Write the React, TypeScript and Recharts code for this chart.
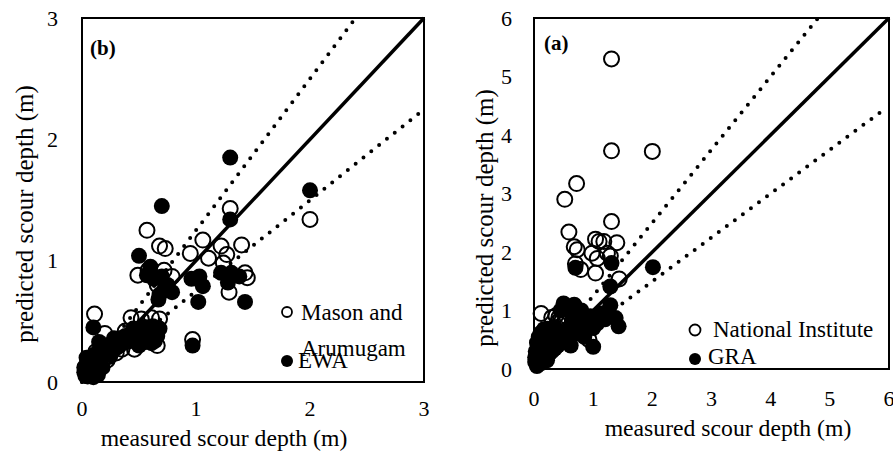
import { ScatterChart, Scatter, XAxis, YAxis, ReferenceArea } from 'recharts'

const FONT = "'Liberation Serif', 'Times New Roman', serif"

const TICKS_B = [0, 1, 2, 3]
const TICKS_A = [0, 1, 2, 3, 4, 5, 6]

// (b) measured vs predicted, Mason and Arumugam (open) / EWA (filled)
const MASON: [number, number][] = [
  [1.3, 1.43], [2.0, 1.34], [0.57, 1.25], [0.68, 1.12], [0.73, 1.1], [1.06, 1.17], [0.95, 1.06],
  [1.22, 1.12], [1.4, 1.13], [1.27, 1.05], [1.11, 1.02], [1.24, 0.98], [0.49, 0.88], [0.72, 0.92],
  [0.79, 0.87], [1.45, 0.86], [1.29, 0.74], [1.43, 0.9], [0.11, 0.56], [0.43, 0.53], [0.61, 0.53],
  [0.68, 0.52], [0.97, 0.35], [0.2, 0.4], [0.46, 0.27], [0.66, 0.3], [0.35, 0.27], [0.24, 0.21],
  [0.15, 0.15], [0.08, 0.1], [0.05, 0.05], [0.12, 0.25], [0.18, 0.3], [0.28, 0.33], [0.55, 0.45],
  [0.62, 0.4], [0.38, 0.42], [0.1, 0.08], [0.03, 0.12], [0.22, 0.18], [0.3, 0.24], [0.52, 0.52],
  [0.58, 0.92], [0.66, 0.8],
]

const EWA: [number, number][] = [
  [1.3, 1.85], [2.0, 1.58], [0.7, 1.45], [1.3, 1.34], [0.5, 1.04], [0.6, 0.95], [0.7, 0.87],
  [0.72, 0.76], [0.79, 0.74], [0.96, 0.85], [1.03, 0.87], [1.06, 0.79], [1.02, 0.66], [1.22, 0.9],
  [1.31, 0.9], [1.38, 0.87], [1.28, 0.82], [1.43, 0.66], [0.97, 0.3], [0.1, 0.45], [0.15, 0.33],
  [0.43, 0.4], [0.55, 0.38], [0.66, 0.38], [0.61, 0.32], [0.35, 0.36], [0.26, 0.3], [0.2, 0.26],
  [0.12, 0.2], [0.06, 0.1], [0.03, 0.05], [0.08, 0.15], [0.18, 0.12], [0.25, 0.22], [0.4, 0.33],
  [0.48, 0.35], [0.02, 0.08], [0.05, 0.18], [0.3, 0.28], [0.14, 0.06], [0.63, 0.85], [0.67, 0.68],
  [0.57, 0.88], [0.02, 0.12], [0.04, 0.2], [0.06, 0.16], [0.1, 0.22], [0.14, 0.25], [0.18, 0.22],
  [0.22, 0.3], [0.28, 0.36], [0.33, 0.3], [0.38, 0.38], [0.42, 0.34], [0.45, 0.44], [0.5, 0.4],
  [0.53, 0.45], [0.58, 0.43], [0.62, 0.46], [0.68, 0.44], [0.5, 0.3], [0.56, 0.33], [0.64, 0.34],
  [0.1, 0.04], [0.07, 0.06], [0.75, 0.8], [0.68, 0.72],
]

// (a) National Institute (open) / GRA (filled)
const NATIONAL: [number, number][] = [
  [1.31, 5.3], [1.31, 3.73], [2.0, 3.72], [0.72, 3.17], [0.52, 2.9], [1.31, 2.52], [0.59, 2.34],
  [0.68, 2.09], [0.73, 2.04], [1.04, 2.22], [1.1, 2.18], [1.18, 2.18], [1.4, 2.16], [0.98, 1.98],
  [1.07, 1.89], [1.24, 1.98], [1.29, 1.93], [0.7, 1.8], [0.79, 1.7], [1.04, 1.64], [1.44, 1.54],
  [0.12, 0.95], [0.37, 0.91], [0.45, 0.85], [0.5, 0.78], [0.93, 0.5], [0.23, 0.68], [0.4, 0.8],
  [0.55, 0.9], [0.3, 0.88], [0.1, 0.45], [0.15, 0.6], [0.2, 0.35], [0.6, 0.62], [0.05, 0.2],
  [0.08, 0.1], [0.28, 0.5], [0.42, 0.88], [0.47, 0.82],
]

const GRA: [number, number][] = [
  [2.01, 1.74], [0.7, 1.73], [1.31, 1.81], [1.29, 1.41], [0.5, 1.12], [0.61, 1.02], [0.78, 0.93],
  [0.95, 0.9], [1.07, 0.78], [1.29, 1.09], [1.38, 0.87], [1.43, 0.73], [1.0, 0.7], [1.0, 0.38],
  [0.62, 0.4], [0.39, 0.51], [0.17, 0.68], [0.12, 0.46], [0.07, 0.18], [0.05, 0.05], [0.1, 0.3],
  [0.15, 0.55], [0.2, 0.4], [0.25, 0.25], [0.3, 0.5], [0.45, 0.45], [0.55, 0.55], [0.7, 0.6],
  [0.8, 0.7], [0.85, 0.55], [0.35, 0.35], [0.08, 0.38], [0.12, 0.1], [0.18, 0.2], [0.65, 0.85],
  [0.4, 0.65], [0.02, 0.12], [1.2, 0.85], [1.15, 0.95], [0.03, 0.3], [0.05, 0.45], [0.08, 0.55],
  [0.12, 0.62], [0.2, 0.6], [0.25, 0.5], [0.3, 0.6], [0.35, 0.72], [0.22, 0.15], [0.3, 0.3],
  [0.15, 0.25], [0.4, 0.4], [0.5, 0.6], [0.6, 0.7], [0.7, 0.8], [0.75, 0.95], [0.85, 0.85],
  [0.9, 0.75], [0.55, 1.05], [0.45, 1.0], [0.65, 0.95], [0.8, 1.0], [0.68, 1.1], [0.02, 0.2],
]

// reference lines: 1:1 and the two dotted bounds
const LINE_B_EQUAL: [number, number][] = [[0, 0], [3, 3]]
const LINE_B_UPPER: [number, number][] = [[0, 0], [2.4, 3]]
const LINE_B_LOWER: [number, number][] = [[0, 0], [2.95, 2.21]]
const LINE_A_EQUAL: [number, number][] = [[0, 0], [6, 6]]
const LINE_A_UPPER: [number, number][] = [[0, 0], [4.8, 6]]
const LINE_A_LOWER: [number, number][] = [[0, 0], [5.95, 4.46]]

const toXY = (pts: [number, number][]) => pts.map(([x, y]) => ({ x, y }))

const openDot = (p: any) => (
  <circle cx={p.cx} cy={p.cy} r={7.5} fill="none" stroke="#000" strokeWidth={2} />
)
const filledDot = (p: any) => <circle cx={p.cx} cy={p.cy} r={8} fill="#000" />
const noDot = () => <g />

const solidLine = { stroke: '#000', strokeWidth: 3.5 }
const dottedLine = { stroke: '#000', strokeWidth: 4, strokeDasharray: '0 10', strokeLinecap: 'round' }

const tick = { fontSize: 22, fill: '#000', fontFamily: FONT }

function Panel(props: {
  width: number
  height: number
  margin: any
  max: number
  ticks: number[]
  xTickMargin: number
  yTickMargin: number
  open: [number, number][]
  filled: [number, number][]
  lines: [number, number][][]
}) {
  const { max, ticks } = props
  return (
    <ScatterChart
      width={props.width}
      height={props.height}
      margin={props.margin}
      style={{ fontFamily: FONT }}
    >
      <XAxis
        type="number"
        dataKey="x"
        domain={[0, max]}
        ticks={ticks}
        interval={0}
        tickLine={false}
        axisLine={false}
        tickMargin={props.xTickMargin}
        height={40}
        tick={tick}
      />
      <YAxis
        type="number"
        dataKey="y"
        domain={[0, max]}
        ticks={ticks}
        interval={0}
        tickLine={false}
        axisLine={false}
        tickMargin={props.yTickMargin}
        width={50}
        tick={tick}
      />
      <ReferenceArea x1={0} x2={max} y1={0} y2={max} fill="none" stroke="#000" strokeWidth={2} />
      <Scatter data={toXY(props.lines[0])} line={solidLine} shape={noDot} isAnimationActive={false} />
      <Scatter data={toXY(props.lines[1])} line={dottedLine} shape={noDot} isAnimationActive={false} />
      <Scatter data={toXY(props.lines[2])} line={dottedLine} shape={noDot} isAnimationActive={false} />
      <Scatter data={toXY(props.open)} shape={openDot} isAnimationActive={false} />
      <Scatter data={toXY(props.filled)} shape={filledDot} isAnimationActive={false} />
    </ScatterChart>
  )
}

export default function App() {
  return (
    <div
      style={{
        position: 'fixed',
        left: 0,
        top: 0,
        width: 893,
        height: 452,
        background: '#fff',
        fontFamily: FONT,
      }}
    >
      <div style={{ position: 'absolute', left: 0, top: 0 }}>
        <Panel
          width={450}
          height={452}
          margin={{ top: 18, right: 26, bottom: 30, left: 32 }}
          max={3}
          ticks={TICKS_B}
          xTickMargin={12}
          yTickMargin={18}
          open={MASON}
          filled={EWA}
          lines={[LINE_B_EQUAL, LINE_B_UPPER, LINE_B_LOWER]}
        />
      </div>
      <div style={{ position: 'absolute', left: 450, top: 0 }}>
        <Panel
          width={443}
          height={452}
          margin={{ top: 18, right: 4, bottom: 43, left: 34 }}
          max={6}
          ticks={TICKS_A}
          xTickMargin={15}
          yTickMargin={16}
          open={NATIONAL}
          filled={GRA}
          lines={[LINE_A_EQUAL, LINE_A_UPPER, LINE_A_LOWER]}
        />
      </div>

      {/* titles, panel letters and legends */}
      <svg
        width={893}
        height={452}
        style={{ position: 'absolute', left: 0, top: 0, pointerEvents: 'none', fontFamily: FONT }}
      >
        <text x={90} y={55} fontSize={21} fontWeight="bold">(b)</text>
        <text x={544} y={50} fontSize={21} fontWeight="bold">(a)</text>

        <text x={224} y={446} fontSize={23.7} textAnchor="middle">measured scour depth (m)</text>
        <text x={728} y={436} fontSize={23.7} textAnchor="middle">measured scour depth (m)</text>
        <text x={0} y={0} fontSize={25} textAnchor="middle" transform="translate(33,214) rotate(-90)">
          predicted scour depth (m)
        </text>
        <text x={0} y={0} fontSize={25} textAnchor="middle" transform="translate(493,218) rotate(-90)">
          predicted scour depth (m)
        </text>

        <circle cx={287} cy={312} r={5} fill="none" stroke="#000" strokeWidth={1.8} />
        <text x={301} y={320} fontSize={23}>Mason and</text>
        <text x={301} y={356} fontSize={23}>Arumugam</text>
        <circle cx={287} cy={361} r={6} fill="#000" />
        <text x={298} y={368} fontSize={23}>EWA</text>

        <circle cx={695} cy={330} r={5.5} fill="none" stroke="#000" strokeWidth={1.8} />
        <text x={713} y={337} fontSize={23}>National Institute</text>
        <circle cx={695} cy={359} r={6} fill="#000" />
        <text x={708} y={364} fontSize={23}>GRA</text>
      </svg>
    </div>
  )
}
